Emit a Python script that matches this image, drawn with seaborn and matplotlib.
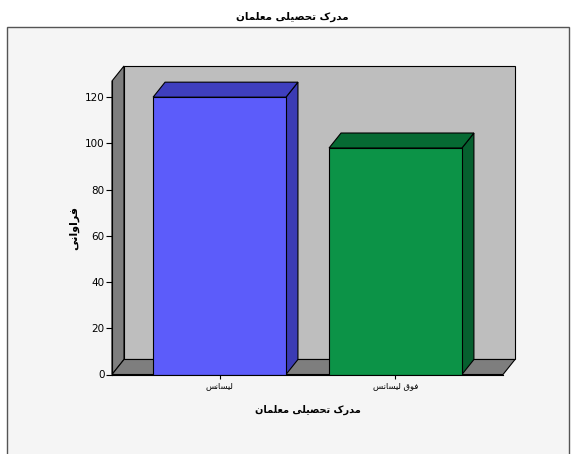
import matplotlib
matplotlib.use("Agg")
import matplotlib.pyplot as plt
import matplotlib.patches as mpatches
import pandas as pd
import seaborn as sns

# Data
categories = ["لیسانس", "فوق لیسانس"]
frequencies = [120, 98]
y_ticks = [0, 20, 40, 60, 80, 100, 120]
title_text = "مدرک تحصیلی معلمان"
y_label_text = "فراوانی"

front_colors = ["#5C5CFA", "#0C9347"]
side_colors = ["#3B3BB4", "#06602F"]
top_colors = ["#3F3FBE", "#066A33"]

# Presentation forms: isolated, final, initial, medial
forms = {
    "م": "\uFEE1\uFEE2\uFEE3\uFEE4",
    "ت": "\uFE95\uFE96\uFE97\uFE98",
    "ح": "\uFEA1\uFEA2\uFEA3\uFEA4",
    "ص": "\uFEB9\uFEBA\uFEBB\uFEBC",
    "ی": "\uFBFC\uFBFD\uFBFE\uFBFF",
    "ل": "\uFEDD\uFEDE\uFEDF\uFEE0",
    "ع": "\uFEC9\uFECA\uFECB\uFECC",
    "ن": "\uFEE5\uFEE6\uFEE7\uFEE8",
    "ف": "\uFED1\uFED2\uFED3\uFED4",
    "ق": "\uFED5\uFED6\uFED7\uFED8",
    "س": "\uFEB1\uFEB2\uFEB3\uFEB4",
    "ک": "\uFB8E\uFB8F\uFB90\uFB91",
    "ا": "\uFE8D\uFE8E",
    "د": "\uFEA9\uFEAA",
    "ر": "\uFEAD\uFEAE",
    "و": "\uFEED\uFEEE",
}


# matplotlib does not join Arabic letters, so do it here
def shape(text):
    out = []
    for i, ch in enumerate(text):
        if ch not in forms:
            out.append(ch)
            continue
        prev = text[i - 1] if i > 0 else " "
        nxt = text[i + 1] if i < len(text) - 1 else " "
        joins_prev = prev in forms and len(forms[prev]) == 4
        joins_next = nxt in forms and len(forms[ch]) == 4
        if joins_prev and joins_next:
            out.append(forms[ch][3])
        elif joins_prev:
            out.append(forms[ch][1])
        elif joins_next:
            out.append(forms[ch][2])
        else:
            out.append(forms[ch][0])
    return "".join(reversed(out))


df = pd.DataFrame({"degree": categories, "freq": frequencies})

sns.set_style("white")
W, H = 572, 454
fig = plt.figure(figsize=(W / 100, H / 100), dpi=100, facecolor="white")

# Outer chart frame, kept behind the axes
fig.patches.append(mpatches.Rectangle((7 / W, -0.01), 562 / W, 1.01 - 27 / H, transform=fig.transFigure,
                                      facecolor="#F5F5F5", edgecolor="#555555", linewidth=1, zorder=-1))

ax = fig.add_axes([112 / W, (H - 374.5) / H, 391 / W, 293.5 / H])
ax.patch.set_visible(False)

sns.barplot(data=df, x="degree", y="freq", hue="degree", palette=front_colors, width=0.755, dodge=False,
            edgecolor="black", linewidth=0.8, legend=False, saturation=1, ax=ax)
ax.set_xlim(-0.611, 1.611)
ax.set_ylim(0, 127)

# 3D depth of the box, in data units
dx = 12 / 176
dy = 15 / 2.31
x0, x1 = ax.get_xlim()
ytop = ax.get_ylim()[1]

ax.fill([x0 + dx, x1 + dx, x1 + dx, x0 + dx], [dy, dy, ytop + dy, ytop + dy], facecolor="#BEBEBE",
        edgecolor="black", linewidth=0.8, clip_on=False, zorder=0)
ax.fill([x0, x0 + dx, x0 + dx, x0], [0, dy, ytop + dy, ytop], facecolor="#7E7E7E",
        edgecolor="black", linewidth=0.8, clip_on=False, zorder=0.5)
ax.fill([x0, x1, x1 + dx, x0 + dx], [0, 0, dy, dy], facecolor="#7E7E7E",
        edgecolor="black", linewidth=0.8, clip_on=False, zorder=0.5)

# Side and top of each bar
for bar, side, top in zip(list(ax.patches), side_colors, top_colors):
    left = bar.get_x()
    right = left + bar.get_width()
    h = bar.get_height()
    ax.fill([right, right + dx, right + dx, right], [0, dy, h + dy, h], facecolor=side,
            edgecolor="black", linewidth=0.8, clip_on=False, zorder=1.5)
    ax.fill([left, right, right + dx, left + dx], [h, h, h + dy, h + dy], facecolor=top,
            edgecolor="black", linewidth=0.8, clip_on=False, zorder=1.5)
    bar.set_zorder(2)

sns.despine(ax=ax, top=True, right=True)
for s in ["left", "bottom"]:
    ax.spines[s].set_color("black")
    ax.spines[s].set_linewidth(0.8)
    ax.spines[s].set_zorder(3)

ax.set_yticks(y_ticks)
ax.set_xticks(range(len(categories)))
ax.set_xticklabels([shape(c) for c in categories], fontsize=6, color="black")
ax.tick_params(axis="y", left=True, length=4.3, width=0.8, labelsize=7.5, pad=1, color="black", labelcolor="black")
ax.tick_params(axis="x", bottom=True, length=3, width=0.8, pad=2, color="black")

ax.set_xlabel(shape(title_text), fontsize=7, fontweight="bold", labelpad=10, color="black")
ax.set_ylabel(shape(y_label_text), fontsize=8, fontweight="bold", labelpad=4, color="black")

fig.text(292 / W, 1 - 17 / H, shape(title_text), ha="center", va="center", fontsize=7.5, fontweight="bold",
         color="black")

fig.savefig("out.png", dpi=100)
